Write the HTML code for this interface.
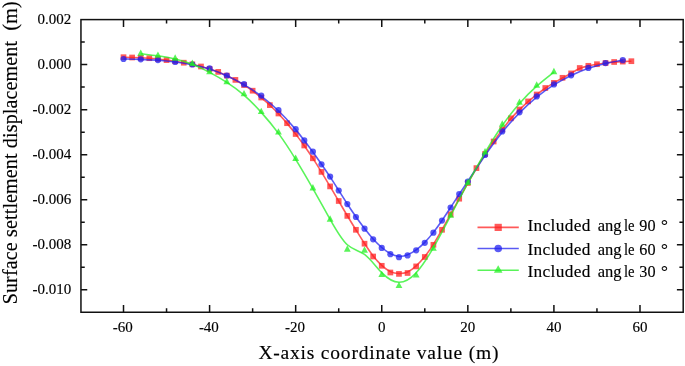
<!DOCTYPE html>
<html><head><meta charset="utf-8"><title>Surface settlement displacement</title>
<style>html,body{margin:0;padding:0;background:#fff}svg{display:block}text{font-family:"Liberation Serif","Times New Roman",serif;fill:#000;stroke:#000;stroke-width:0.15px}</style></head><body>
<svg width="685" height="366" viewBox="0 0 685 366">
<rect width="685" height="366" fill="#fff"/>
<g stroke="#111" stroke-width="1.5" fill="none" stroke-linecap="butt">
<rect x="80.95" y="19.60" width="602.25" height="292.65"/>
<path d="M123.51 312.25v-7.3M123.51 19.60v7.3M209.59 312.25v-7.3M209.59 19.60v7.3M295.67 312.25v-7.3M295.67 19.60v7.3M381.75 312.25v-7.3M381.75 19.60v7.3M467.83 312.25v-7.3M467.83 19.60v7.3M553.91 312.25v-7.3M553.91 19.60v7.3M639.99 312.25v-7.3M639.99 19.60v7.3M166.55 312.25v-4M166.55 19.60v4M252.63 312.25v-4M252.63 19.60v4M338.71 312.25v-4M338.71 19.60v4M424.79 312.25v-4M424.79 19.60v4M510.87 312.25v-4M510.87 19.60v4M596.95 312.25v-4M596.95 19.60v4M80.95 289.80h6.3M683.20 289.80h-6.3M80.95 244.76h6.3M683.20 244.76h-6.3M80.95 199.72h6.3M683.20 199.72h-6.3M80.95 154.68h6.3M683.20 154.68h-6.3M80.95 109.64h6.3M683.20 109.64h-6.3M80.95 64.60h6.3M683.20 64.60h-6.3M80.95 267.28h3.8M683.20 267.28h-3.8M80.95 222.24h3.8M683.20 222.24h-3.8M80.95 177.20h3.8M683.20 177.20h-3.8M80.95 132.16h3.8M683.20 132.16h-3.8M80.95 87.12h3.8M683.20 87.12h-3.8M80.95 42.08h3.8M683.20 42.08h-3.8"/>
</g>
<g font-size="15px">
<text x="122.81" y="331.9" text-anchor="middle">-60</text>
<text x="208.89" y="331.9" text-anchor="middle">-40</text>
<text x="294.97" y="331.9" text-anchor="middle">-20</text>
<text x="381.75" y="331.9" text-anchor="middle">0</text>
<text x="467.83" y="331.9" text-anchor="middle">20</text>
<text x="553.91" y="331.9" text-anchor="middle">40</text>
<text x="639.99" y="331.9" text-anchor="middle">60</text>
<text x="71.3" y="294.30" text-anchor="end">-0.010</text>
<text x="71.3" y="249.26" text-anchor="end">-0.008</text>
<text x="71.3" y="204.22" text-anchor="end">-0.006</text>
<text x="71.3" y="159.18" text-anchor="end">-0.004</text>
<text x="71.3" y="114.14" text-anchor="end">-0.002</text>
<text x="71.3" y="69.10" text-anchor="end">0.000</text>
<text x="71.3" y="24.06" text-anchor="end">0.002</text>
</g>
<text x="258.4" y="359.0" font-size="19.5px" textLength="240" lengthAdjust="spacing">X-axis coordinate value (m)</text>
<text transform="translate(17.4 304.3) rotate(-90)" font-size="20px" textLength="303" lengthAdjust="spacing" xml:space="preserve">Surface settlement displacement  (m)</text>
<g opacity="0.74">
<path d="M123.51 57.20C123.51 57.20 123.51 57.20 124.94 57.25C126.38 57.30 129.25 57.40 132.12 57.50C134.99 57.60 137.86 57.70 140.73 57.82C143.60 57.93 146.46 58.07 149.33 58.27C152.20 58.47 155.07 58.73 157.94 59.05C160.81 59.37 163.68 59.73 166.55 60.10C169.42 60.47 172.29 60.83 175.16 61.27C178.03 61.70 180.90 62.20 183.77 62.72C186.64 63.23 189.50 63.77 192.37 64.40C195.24 65.03 198.11 65.77 200.98 66.55C203.85 67.33 206.72 68.17 209.59 69.07C212.46 69.97 215.33 70.93 218.20 72.03C221.07 73.13 223.94 74.37 226.81 75.70C229.68 77.03 232.54 78.47 235.41 80.03C238.28 81.60 241.15 83.30 244.02 85.10C246.89 86.90 249.76 88.80 252.63 90.88C255.50 92.97 258.37 95.23 261.24 97.63C264.11 100.03 266.98 102.57 269.85 105.23C272.72 107.90 275.58 110.70 278.45 113.72C281.32 116.73 284.19 119.97 287.06 123.38C289.93 126.80 292.80 130.40 295.67 134.12C298.54 137.83 301.41 141.67 304.28 145.72C307.15 149.77 310.02 154.03 312.89 158.43C315.76 162.83 318.62 167.37 321.49 172.05C324.36 176.73 327.23 181.57 330.10 186.42C332.97 191.27 335.84 196.13 338.71 201.05C341.58 205.97 344.45 210.93 347.32 215.73C350.19 220.53 353.06 225.17 355.93 229.80C358.80 234.43 361.66 239.07 364.53 243.52C367.40 247.97 370.27 252.23 373.14 255.92C376.01 259.60 378.88 262.70 381.75 265.37C384.62 268.03 387.49 270.27 390.36 271.62C393.23 272.97 396.10 273.43 398.97 273.52C401.84 273.60 404.70 273.30 407.57 272.05C410.44 270.80 413.31 268.60 416.18 265.93C419.05 263.27 421.92 260.13 424.79 256.53C427.66 252.93 430.53 248.87 433.40 244.33C436.27 239.80 439.14 234.80 442.01 229.72C444.88 224.63 447.74 219.47 450.61 214.28C453.48 209.10 456.35 203.90 459.22 198.68C462.09 193.47 464.96 188.23 467.83 183.13C470.70 178.03 473.57 173.07 476.44 168.23C479.31 163.40 482.18 158.70 485.05 154.27C487.92 149.83 490.78 145.67 493.65 141.58C496.52 137.50 499.39 133.50 502.26 129.63C505.13 125.77 508.00 122.03 510.87 118.70C513.74 115.37 516.61 112.43 519.48 109.62C522.35 106.80 525.22 104.10 528.09 101.60C530.96 99.10 533.82 96.80 536.69 94.57C539.56 92.33 542.43 90.17 545.30 88.23C548.17 86.30 551.04 84.60 553.91 82.90C556.78 81.20 559.65 79.50 562.52 77.92C565.39 76.33 568.26 74.87 571.13 73.23C574.00 71.60 576.86 69.80 579.73 68.53C582.60 67.27 585.47 66.53 588.34 65.90C591.21 65.27 594.08 64.73 596.95 64.27C599.82 63.80 602.69 63.40 605.56 63.03C608.43 62.67 611.30 62.33 614.17 62.10C617.04 61.87 619.90 61.73 622.77 61.60C625.64 61.47 628.51 61.33 629.95 61.27C631.38 61.20 631.38 61.20 631.38 61.20" fill="none" stroke="#ff2020" stroke-width="1.6"/>
</g>
<g fill="#ff2020" opacity="0.74">
<rect x="120.66" y="54.35" width="5.7" height="5.7"/>
<rect x="129.27" y="54.65" width="5.7" height="5.7"/>
<rect x="137.88" y="54.95" width="5.7" height="5.7"/>
<rect x="146.48" y="55.35" width="5.7" height="5.7"/>
<rect x="155.09" y="56.15" width="5.7" height="5.7"/>
<rect x="163.70" y="57.25" width="5.7" height="5.7"/>
<rect x="172.31" y="58.35" width="5.7" height="5.7"/>
<rect x="180.92" y="59.85" width="5.7" height="5.7"/>
<rect x="189.52" y="61.45" width="5.7" height="5.7"/>
<rect x="198.13" y="63.65" width="5.7" height="5.7"/>
<rect x="206.74" y="66.15" width="5.7" height="5.7"/>
<rect x="215.35" y="69.05" width="5.7" height="5.7"/>
<rect x="223.96" y="72.75" width="5.7" height="5.7"/>
<rect x="232.56" y="77.05" width="5.7" height="5.7"/>
<rect x="241.17" y="82.15" width="5.7" height="5.7"/>
<rect x="249.78" y="87.85" width="5.7" height="5.7"/>
<rect x="258.39" y="94.65" width="5.7" height="5.7"/>
<rect x="267.00" y="102.25" width="5.7" height="5.7"/>
<rect x="275.60" y="110.65" width="5.7" height="5.7"/>
<rect x="284.21" y="120.35" width="5.7" height="5.7"/>
<rect x="292.82" y="131.15" width="5.7" height="5.7"/>
<rect x="301.43" y="142.65" width="5.7" height="5.7"/>
<rect x="310.04" y="155.45" width="5.7" height="5.7"/>
<rect x="318.64" y="169.05" width="5.7" height="5.7"/>
<rect x="327.25" y="183.55" width="5.7" height="5.7"/>
<rect x="335.86" y="198.15" width="5.7" height="5.7"/>
<rect x="344.47" y="213.05" width="5.7" height="5.7"/>
<rect x="353.08" y="226.95" width="5.7" height="5.7"/>
<rect x="361.68" y="240.85" width="5.7" height="5.7"/>
<rect x="370.29" y="253.65" width="5.7" height="5.7"/>
<rect x="378.90" y="262.95" width="5.7" height="5.7"/>
<rect x="387.51" y="269.65" width="5.7" height="5.7"/>
<rect x="396.12" y="271.05" width="5.7" height="5.7"/>
<rect x="404.72" y="270.15" width="5.7" height="5.7"/>
<rect x="413.33" y="263.55" width="5.7" height="5.7"/>
<rect x="421.94" y="254.15" width="5.7" height="5.7"/>
<rect x="430.55" y="241.95" width="5.7" height="5.7"/>
<rect x="439.16" y="226.95" width="5.7" height="5.7"/>
<rect x="447.76" y="211.45" width="5.7" height="5.7"/>
<rect x="456.37" y="195.85" width="5.7" height="5.7"/>
<rect x="464.98" y="180.15" width="5.7" height="5.7"/>
<rect x="473.59" y="165.25" width="5.7" height="5.7"/>
<rect x="482.20" y="151.15" width="5.7" height="5.7"/>
<rect x="490.80" y="138.65" width="5.7" height="5.7"/>
<rect x="499.41" y="126.65" width="5.7" height="5.7"/>
<rect x="508.02" y="115.45" width="5.7" height="5.7"/>
<rect x="516.63" y="106.65" width="5.7" height="5.7"/>
<rect x="525.24" y="98.55" width="5.7" height="5.7"/>
<rect x="533.84" y="91.65" width="5.7" height="5.7"/>
<rect x="542.45" y="85.15" width="5.7" height="5.7"/>
<rect x="551.06" y="80.05" width="5.7" height="5.7"/>
<rect x="559.67" y="74.95" width="5.7" height="5.7"/>
<rect x="568.28" y="70.55" width="5.7" height="5.7"/>
<rect x="576.88" y="65.15" width="5.7" height="5.7"/>
<rect x="585.49" y="62.95" width="5.7" height="5.7"/>
<rect x="594.10" y="61.35" width="5.7" height="5.7"/>
<rect x="602.71" y="60.15" width="5.7" height="5.7"/>
<rect x="611.32" y="59.15" width="5.7" height="5.7"/>
<rect x="619.92" y="58.75" width="5.7" height="5.7"/>
<rect x="628.53" y="58.35" width="5.7" height="5.7"/>
</g>
<g opacity="0.74">
<path d="M123.51 59.00C123.51 59.00 123.51 59.00 126.38 59.05C129.25 59.10 134.99 59.20 140.73 59.38C146.46 59.57 152.20 59.83 157.94 60.27C163.68 60.70 169.42 61.30 175.16 62.03C180.90 62.77 186.64 63.63 192.37 64.72C198.11 65.80 203.85 67.10 209.59 68.93C215.33 70.77 221.07 73.13 226.81 75.77C232.54 78.40 238.28 81.30 244.02 84.65C249.76 88.00 255.50 91.80 261.24 96.10C266.98 100.40 272.72 105.20 278.45 110.80C284.19 116.40 289.93 122.80 294.24 127.87C298.54 132.93 301.41 136.67 304.28 140.42C307.15 144.17 310.02 147.93 312.89 151.92C315.76 155.90 318.62 160.10 321.49 164.25C324.36 168.40 327.23 172.50 330.10 176.87C332.97 181.23 335.84 185.87 338.71 190.45C341.58 195.03 344.45 199.57 347.32 203.98C350.19 208.40 353.06 212.70 355.93 216.80C358.80 220.90 361.66 224.80 364.53 228.52C367.40 232.23 370.27 235.77 373.14 238.97C376.01 242.17 378.88 245.03 381.75 247.52C384.62 250.00 387.49 252.10 390.36 253.65C393.23 255.20 396.10 256.20 398.97 256.40C401.84 256.60 404.70 256.00 407.57 254.85C410.44 253.70 413.31 252.00 416.18 249.90C419.05 247.80 421.92 245.30 424.79 242.37C427.66 239.43 430.53 236.07 433.40 232.37C436.27 228.67 439.14 224.63 442.01 220.43C444.88 216.23 447.74 211.87 450.61 207.45C453.48 203.03 456.35 198.57 459.22 194.23C462.09 189.90 464.96 185.70 469.26 179.18C473.57 172.67 479.31 163.83 485.05 155.48C490.78 147.13 496.52 139.27 502.26 132.15C508.00 125.03 513.74 118.67 519.48 112.83C525.22 107.00 530.96 101.70 536.69 97.05C542.43 92.40 548.17 88.40 553.91 84.88C559.65 81.37 565.39 78.33 571.13 75.58C576.86 72.83 582.60 70.37 588.34 68.33C594.08 66.30 599.82 64.70 605.56 63.42C611.30 62.13 617.04 61.17 619.90 60.68C622.77 60.20 622.77 60.20 622.77 60.20" fill="none" stroke="#2020f0" stroke-width="1.6"/>
</g>
<g fill="#2020f0" opacity="0.74">
<circle cx="123.51" cy="59.00" r="3.1"/>
<circle cx="140.73" cy="59.30" r="3.1"/>
<circle cx="157.94" cy="60.10" r="3.1"/>
<circle cx="175.16" cy="61.90" r="3.1"/>
<circle cx="192.37" cy="64.50" r="3.1"/>
<circle cx="209.59" cy="68.40" r="3.1"/>
<circle cx="226.81" cy="75.50" r="3.1"/>
<circle cx="244.02" cy="84.20" r="3.1"/>
<circle cx="261.24" cy="95.60" r="3.1"/>
<circle cx="278.45" cy="110.00" r="3.1"/>
<circle cx="295.67" cy="129.20" r="3.1"/>
<circle cx="304.28" cy="140.40" r="3.1"/>
<circle cx="312.89" cy="151.70" r="3.1"/>
<circle cx="321.49" cy="164.30" r="3.1"/>
<circle cx="330.10" cy="176.60" r="3.1"/>
<circle cx="338.71" cy="190.50" r="3.1"/>
<circle cx="347.32" cy="204.10" r="3.1"/>
<circle cx="355.93" cy="217.00" r="3.1"/>
<circle cx="364.53" cy="228.70" r="3.1"/>
<circle cx="373.14" cy="239.30" r="3.1"/>
<circle cx="381.75" cy="247.90" r="3.1"/>
<circle cx="390.36" cy="254.20" r="3.1"/>
<circle cx="398.97" cy="257.20" r="3.1"/>
<circle cx="407.57" cy="255.40" r="3.1"/>
<circle cx="416.18" cy="250.30" r="3.1"/>
<circle cx="424.79" cy="242.80" r="3.1"/>
<circle cx="433.40" cy="232.70" r="3.1"/>
<circle cx="442.01" cy="220.60" r="3.1"/>
<circle cx="450.61" cy="207.50" r="3.1"/>
<circle cx="459.22" cy="194.10" r="3.1"/>
<circle cx="467.83" cy="181.50" r="3.1"/>
<circle cx="485.05" cy="155.00" r="3.1"/>
<circle cx="502.26" cy="131.40" r="3.1"/>
<circle cx="519.48" cy="112.30" r="3.1"/>
<circle cx="536.69" cy="96.40" r="3.1"/>
<circle cx="553.91" cy="84.40" r="3.1"/>
<circle cx="571.13" cy="75.30" r="3.1"/>
<circle cx="588.34" cy="67.90" r="3.1"/>
<circle cx="605.56" cy="63.10" r="3.1"/>
<circle cx="622.77" cy="60.20" r="3.1"/>
</g>
<g opacity="0.74">
<path d="M140.73 53.70C140.73 53.70 140.73 53.70 143.60 54.03C146.46 54.37 152.20 55.03 157.94 55.83C163.68 56.63 169.42 57.57 175.16 58.92C180.90 60.27 186.64 62.03 192.37 64.30C198.11 66.57 203.85 69.33 209.59 72.37C215.33 75.40 221.07 78.70 226.81 82.38C232.54 86.07 238.28 90.13 244.02 95.12C249.76 100.10 255.50 106.00 261.24 112.37C266.98 118.73 272.72 125.57 278.45 133.38C284.19 141.20 289.93 150.00 295.67 159.32C301.41 168.63 307.15 178.47 312.89 188.58C318.62 198.70 324.36 209.10 330.10 219.32C335.84 229.53 341.58 239.57 347.32 244.75C353.06 249.93 358.80 250.27 364.53 254.48C370.27 258.70 376.01 266.80 381.75 272.68C387.49 278.57 393.23 282.23 398.97 282.32C404.70 282.40 410.44 278.90 416.18 272.70C421.92 266.50 427.66 257.60 433.40 247.63C439.14 237.67 444.88 226.63 450.61 215.65C456.35 204.67 462.09 193.73 467.83 183.18C473.57 172.63 479.31 162.47 485.05 152.75C490.78 143.03 496.52 133.77 502.26 125.50C508.00 117.23 513.74 109.97 519.48 103.47C525.22 96.97 530.96 91.23 536.69 86.13C542.43 81.03 548.17 76.57 551.04 74.33C553.91 72.10 553.91 72.10 553.91 72.10" fill="none" stroke="#20f020" stroke-width="1.6"/>
</g>
<g fill="#20f020" opacity="0.74">
<path d="M140.73 49.43L144.13 55.83L137.33 55.83Z"/>
<path d="M157.94 51.43L161.34 57.83L154.54 57.83Z"/>
<path d="M175.16 54.23L178.56 60.63L171.76 60.63Z"/>
<path d="M192.37 59.53L195.77 65.93L188.97 65.93Z"/>
<path d="M209.59 67.83L212.99 74.23L206.19 74.23Z"/>
<path d="M226.81 77.73L230.21 84.13L223.41 84.13Z"/>
<path d="M244.02 89.93L247.42 96.33L240.62 96.33Z"/>
<path d="M261.24 107.63L264.64 114.03L257.84 114.03Z"/>
<path d="M278.45 128.13L281.85 134.53L275.05 134.53Z"/>
<path d="M295.67 154.53L299.07 160.93L292.27 160.93Z"/>
<path d="M312.89 184.03L316.29 190.43L309.49 190.43Z"/>
<path d="M330.10 215.23L333.50 221.63L326.70 221.63Z"/>
<path d="M347.32 245.33L350.72 251.73L343.92 251.73Z"/>
<path d="M364.53 246.33L367.93 252.73L361.13 252.73Z"/>
<path d="M381.75 270.63L385.15 277.03L378.35 277.03Z"/>
<path d="M398.97 281.63L402.37 288.03L395.57 288.03Z"/>
<path d="M416.18 271.13L419.58 277.53L412.78 277.53Z"/>
<path d="M433.40 244.43L436.80 250.83L430.00 250.83Z"/>
<path d="M450.61 211.33L454.01 217.73L447.21 217.73Z"/>
<path d="M467.83 178.53L471.23 184.93L464.43 184.93Z"/>
<path d="M485.05 148.03L488.45 154.43L481.65 154.43Z"/>
<path d="M502.26 120.23L505.66 126.63L498.86 126.63Z"/>
<path d="M519.48 98.43L522.88 104.83L516.08 104.83Z"/>
<path d="M536.69 81.23L540.09 87.63L533.29 87.63Z"/>
<path d="M553.91 67.83L557.31 74.23L550.51 74.23Z"/>
</g>
<g opacity="0.74"><path d="M477.5 227.4H518.8" stroke="#ff2020" stroke-width="1.6"/></g>
<g fill="#ff2020" opacity="0.74"><rect x="494.60" y="223.80" width="7.2" height="7.2"/></g>
<text y="231.4" font-size="17.3px"><tspan x="527.5" textLength="62.9" lengthAdjust="spacing">Included</tspan> <tspan x="597.8" textLength="23.8" lengthAdjust="spacingAndGlyphs">ang</tspan><tspan x="624.0" textLength="10.6" lengthAdjust="spacingAndGlyphs">le</tspan> <tspan x="639.3" textLength="16.2" lengthAdjust="spacingAndGlyphs">90</tspan> <tspan x="660.9">°</tspan></text>
<g opacity="0.74"><path d="M477.5 248.5H518.8" stroke="#2020f0" stroke-width="1.6"/></g>
<g fill="#2020f0" opacity="0.74"><circle cx="498.20" cy="248.50" r="3.8"/></g>
<text y="254.6" font-size="17.3px"><tspan x="527.5" textLength="62.9" lengthAdjust="spacing">Included</tspan> <tspan x="597.8" textLength="23.8" lengthAdjust="spacingAndGlyphs">ang</tspan><tspan x="624.0" textLength="10.6" lengthAdjust="spacingAndGlyphs">le</tspan> <tspan x="639.3" textLength="16.2" lengthAdjust="spacingAndGlyphs">60</tspan> <tspan x="660.9">°</tspan></text>
<g opacity="0.74"><path d="M477.5 270.3H518.8" stroke="#20f020" stroke-width="1.6"/></g>
<g fill="#20f020" opacity="0.74"><path d="M498.20 265.23L502.50 272.83L493.90 272.83Z"/></g>
<text y="277.3" font-size="17.3px"><tspan x="527.5" textLength="62.9" lengthAdjust="spacing">Included</tspan> <tspan x="597.8" textLength="23.8" lengthAdjust="spacingAndGlyphs">ang</tspan><tspan x="624.0" textLength="10.6" lengthAdjust="spacingAndGlyphs">le</tspan> <tspan x="639.3" textLength="16.2" lengthAdjust="spacingAndGlyphs">30</tspan> <tspan x="660.9">°</tspan></text>
</svg></body></html>
